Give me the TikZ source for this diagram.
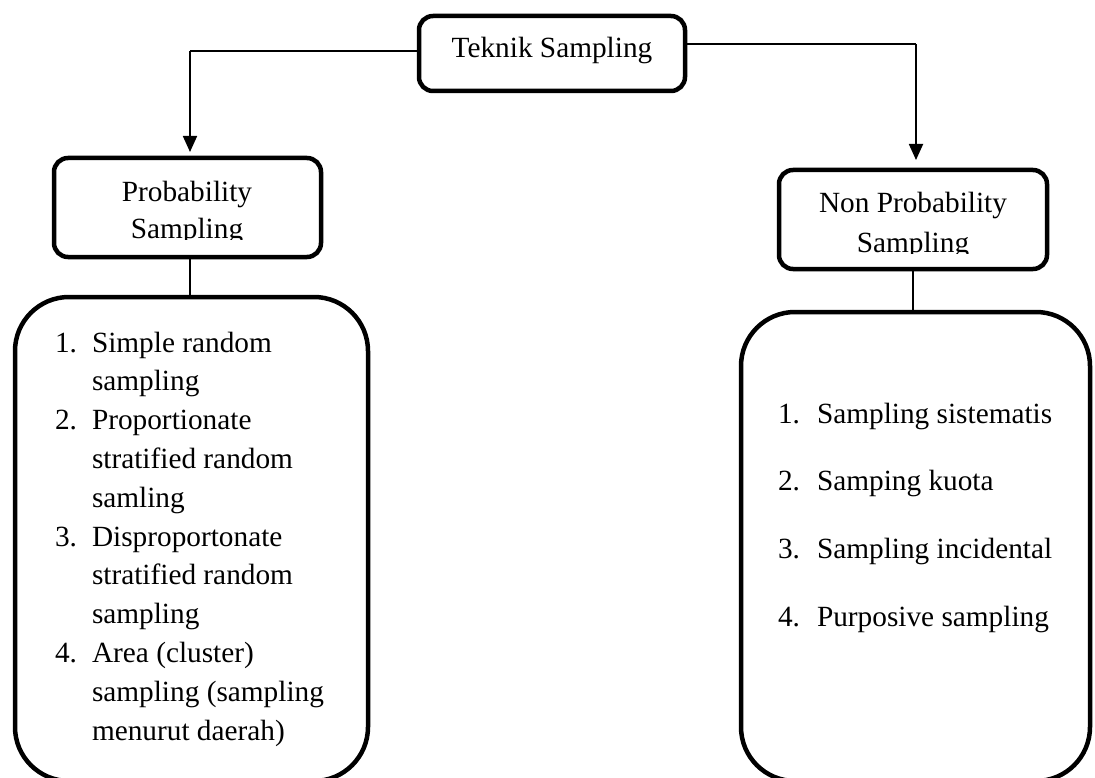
\documentclass[tikz,border=0pt]{standalone}
\usepackage{fontspec}
\setmainfont{Liberation Serif}
\usetikzlibrary{arrows.meta}
\begin{document}
\begin{tikzpicture}[x=1pt,y=-1pt,
  box/.style={draw, line width=4.5pt, rounded corners=14pt, inner sep=0pt, outer sep=0pt},
  bigbox/.style={draw, line width=4.5pt, rounded corners=54pt, inner sep=0pt, outer sep=0pt},
  link/.style={line width=1.8pt},
  arrowlink/.style={line width=1.8pt, -{Triangle[width=14pt,length=16pt]}},
  lbl/.style={font=\fontsize{29.3}{38.8}\selectfont, inner sep=0pt, outer sep=0pt},
]
\useasboundingbox (0,0) rectangle (1095,778);

% boxes
\node[box, minimum width=266pt, minimum height=75pt] (top) at (552,53.5) {};
\node[box, minimum width=267pt, minimum height=99pt] (prob) at (187.5,207.5) {};
\node[box, minimum width=268pt, minimum height=99pt] (nonprob) at (913,219.5) {};
\begin{scope}
  \clip (0,0) rectangle (1095,778);
  \node[bigbox, minimum width=353pt, minimum height=484pt] (leftbig) at (191.5,539) {};
  \node[bigbox, minimum width=349pt, minimum height=469pt] (rightbig) at (915.5,546.5) {};
\end{scope}

% connectors
\coordinate (lj) at (190,51);
\coordinate (rj) at (916,44);
\draw[link] (lj -| top.west) -- (lj);
\draw[arrowlink, shorten >=6pt] (lj) -- (lj |- prob.north);
\draw[link] (rj -| top.east) -- (rj);
\draw[arrowlink, shorten >=10pt] (rj) -- (rj |- nonprob.north);
\draw[link] (lj |- prob.south) -- (lj |- leftbig.north);
\draw[link] (nonprob.south) -- (nonprob.south |- rightbig.north);

% titles
\node[lbl, anchor=base] (ttop) at (552,58) {Teknik Sampling};
\begin{scope}
  \clip (0,0) rectangle (1095,240);
  \node[lbl, anchor=base] (tprobA) at (187,202) {Probability};
  \node[lbl, anchor=base] (tprobB) at (187,239) {Sampling};
\end{scope}
\begin{scope}
  \clip (0,0) rectangle (1095,253);
  \node[lbl, anchor=base] (tnonA) at (913,213) {Non Probability};
  \node[lbl, anchor=base] (tnonB) at (913,252) {Sampling};
\end{scope}

% left list
\node[lbl, anchor=base west] (n1) at (55,352) {1.};
\node[lbl, anchor=base west] (l1a) at (92,352) {Simple random};
\node[lbl, anchor=base west] (l1b) at (92,390.8) {sampling};
\node[lbl, anchor=base west] (n2) at (55,429.6) {2.};
\node[lbl, anchor=base west] (l2a) at (92,429.6) {Proportionate};
\node[lbl, anchor=base west] (l2b) at (92,468.4) {stratified random};
\node[lbl, anchor=base west] (l2c) at (92,507.2) {samling};
\node[lbl, anchor=base west] (n3) at (55,546) {3.};
\node[lbl, anchor=base west] (l3a) at (92,546) {Disproportonate};
\node[lbl, anchor=base west] (l3b) at (92,584.8) {stratified random};
\node[lbl, anchor=base west] (l3c) at (92,623.6) {sampling};
\node[lbl, anchor=base west] (n4) at (55,662.4) {4.};
\node[lbl, anchor=base west] (l4a) at (92,662.4) {Area (cluster)};
\node[lbl, anchor=base west] (l4b) at (92,701.2) {sampling (sampling};
\node[lbl, anchor=base west] (l4c) at (92,740) {menurut daerah)};

% right list
\node[lbl, anchor=base west] (m1) at (778,423) {1.};
\node[lbl, anchor=base west] (r1) at (817,423) {Sampling sistematis};
\node[lbl, anchor=base west] (m2) at (778,490.7) {2.};
\node[lbl, anchor=base west] (r2) at (817,490.7) {Samping kuota};
\node[lbl, anchor=base west] (m3) at (778,558.4) {3.};
\node[lbl, anchor=base west] (r3) at (817,558.4) {Sampling incidental};
\node[lbl, anchor=base west] (m4) at (778,626.1) {4.};
\node[lbl, anchor=base west] (r4) at (817,626.1) {Purposive sampling};
\end{tikzpicture}
\end{document}
